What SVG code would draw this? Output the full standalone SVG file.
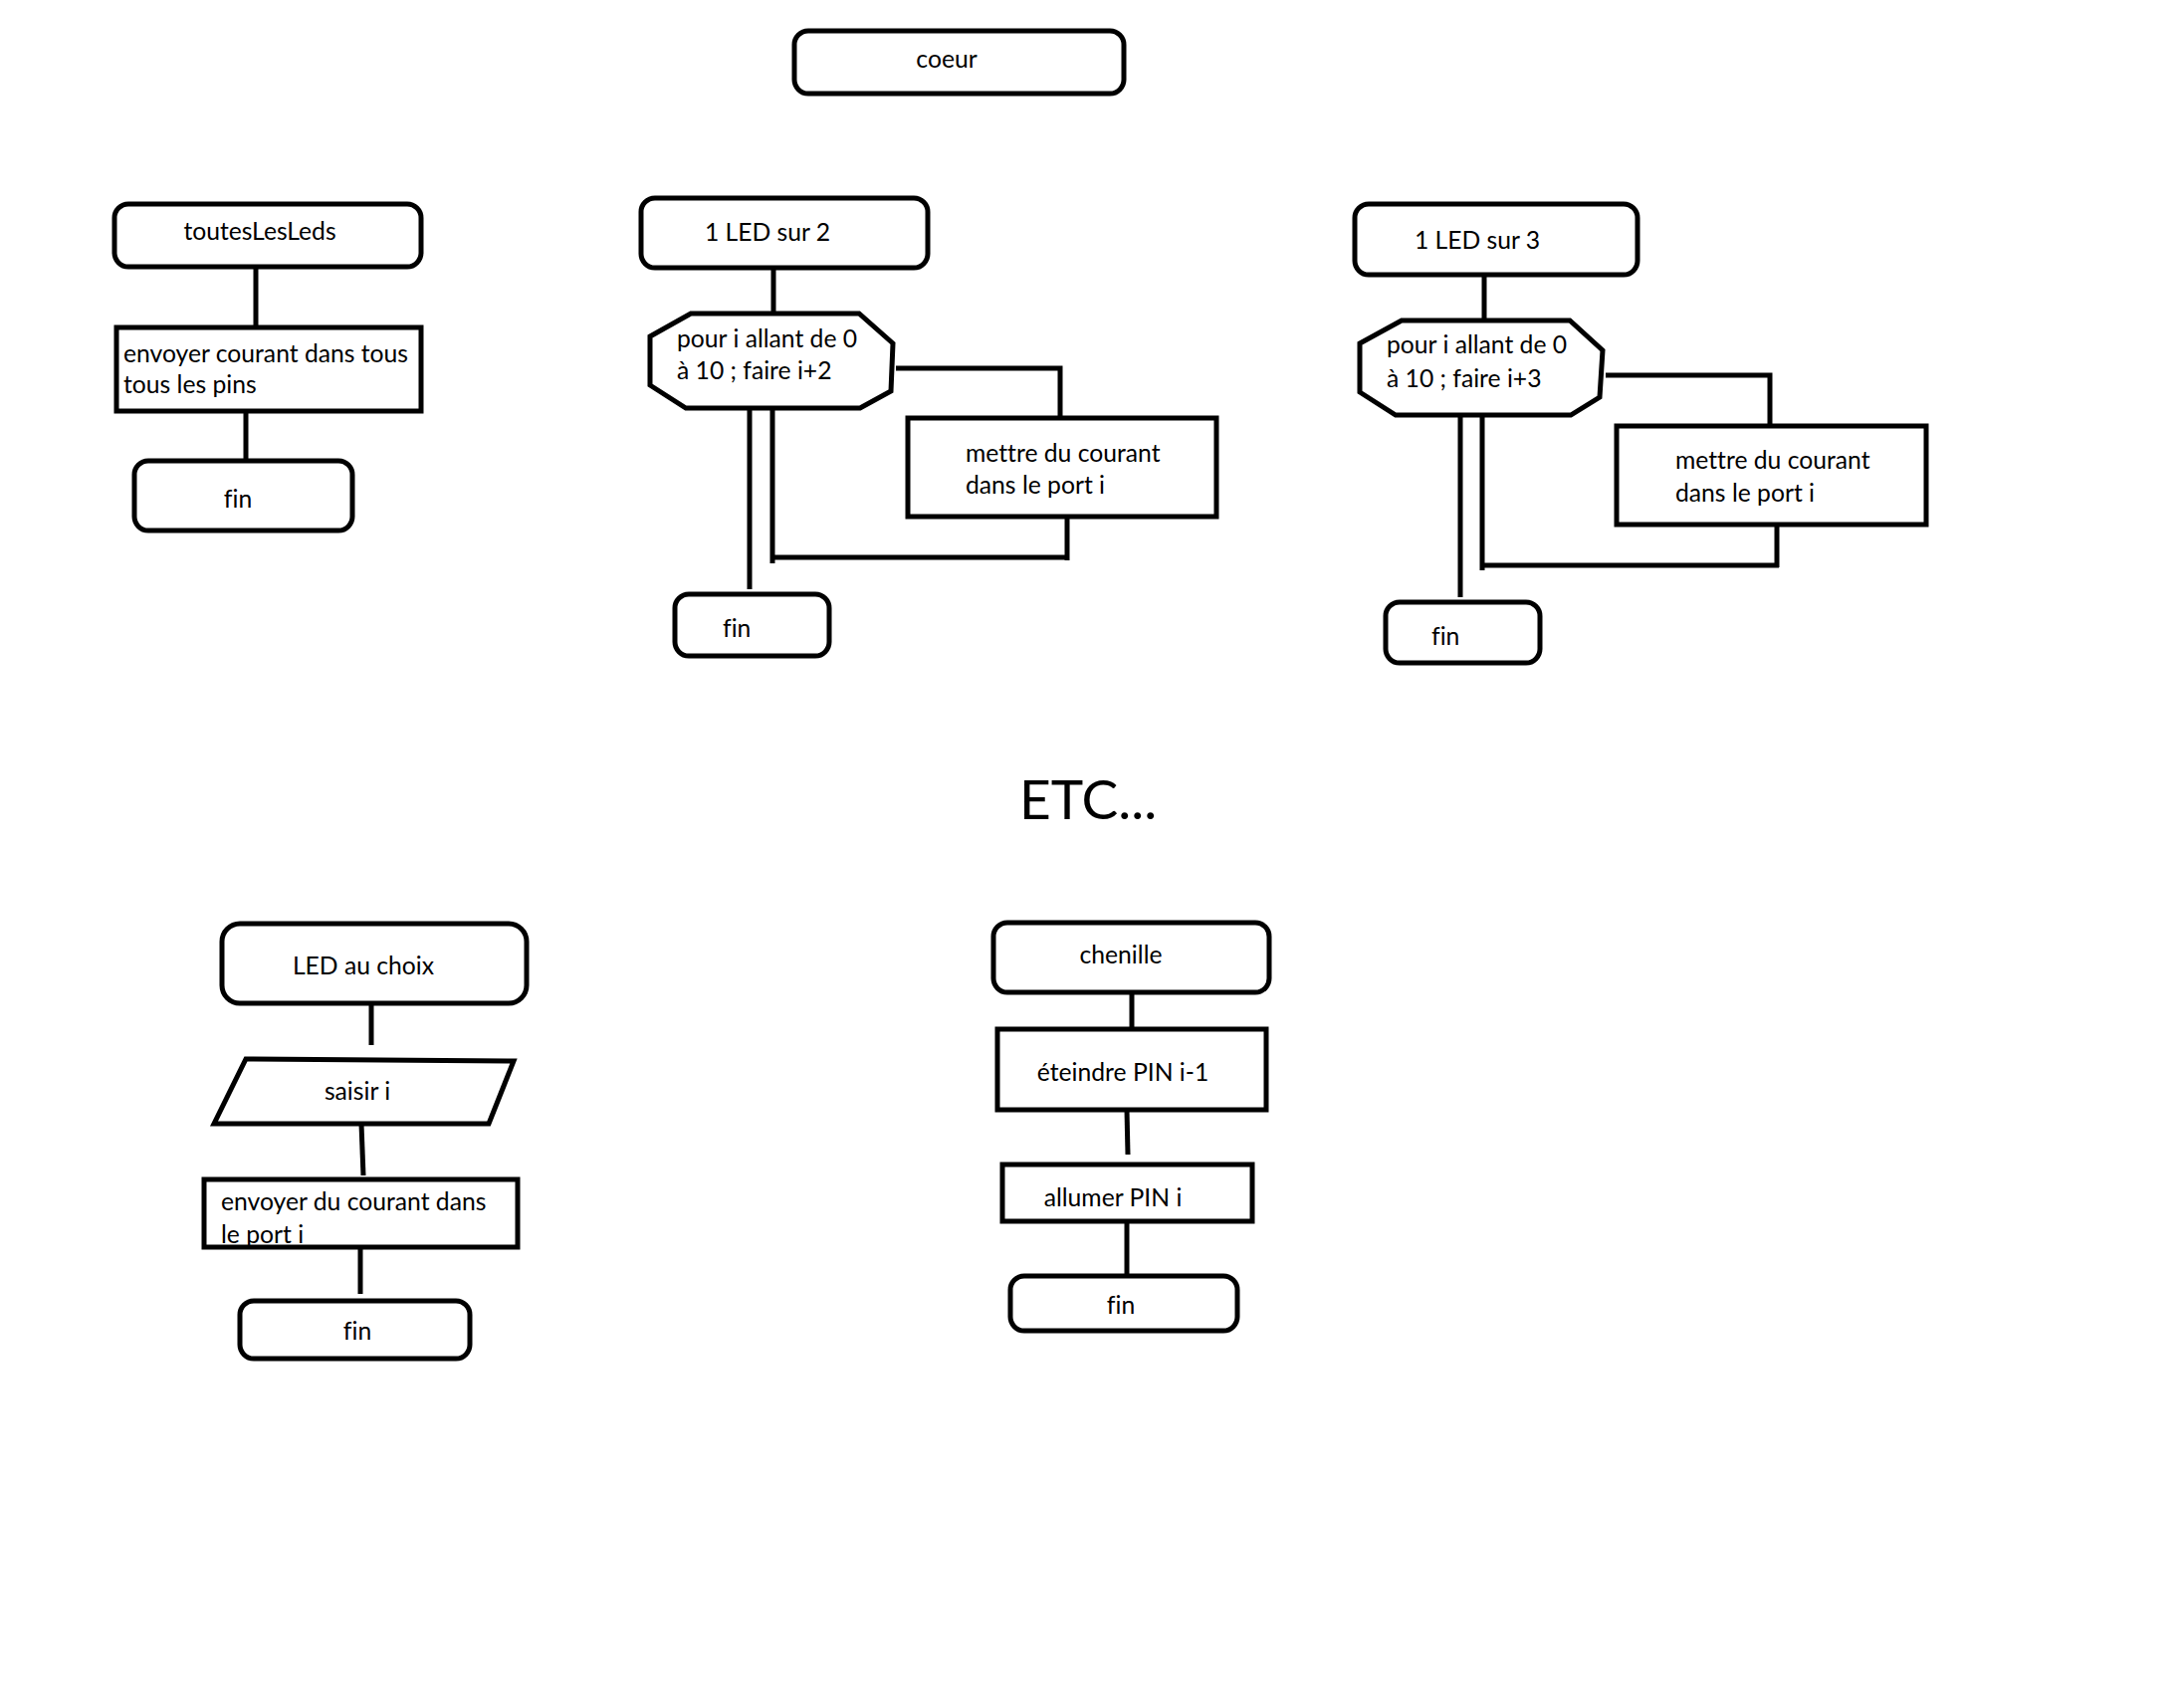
<svg xmlns="http://www.w3.org/2000/svg" width="2194" height="1706" viewBox="0 0 2194 1706">
<style>
.s{fill:#fff;stroke:#000;stroke-width:5;stroke-linejoin:miter}
.c{fill:none;stroke:#000;stroke-width:5}
.t{font-family:Lato,"Liberation Sans",sans-serif;font-size:24.7px;fill:#000;font-variant-ligatures:none}
.m{text-anchor:middle}
.big{font-family:Lato,"Liberation Sans",sans-serif;font-size:55px;fill:#000}
</style>
<rect width="2194" height="1706" fill="#fff"/>
<g id="connectors">
<path class="c" d="M257 268V329"/>
<path class="c" d="M247 413V463"/>
<path class="c" d="M777 269V315"/>
<path class="c" d="M900 370H1065V420"/>
<path class="c" d="M1072 519V563"/>
<path class="c" d="M775 560H1074"/>
<path class="c" d="M776 410V566"/>
<path class="c" d="M753 410V592"/>
<path class="c" d="M1491 276V322"/>
<path class="c" d="M1613 377H1778V428"/>
<path class="c" d="M1785 527V570"/>
<path class="c" d="M1488 568H1787"/>
<path class="c" d="M1489 417V573"/>
<path class="c" d="M1467 417V600"/>
<path class="c" d="M373 1008V1050"/>
<path class="c" d="M363 1129L365 1181"/>
<path class="c" d="M362 1253V1300"/>
<path class="c" d="M1137 997V1034"/>
<path class="c" d="M1132 1115L1133 1160"/>
<path class="c" d="M1132 1227V1282"/>
</g>
<g id="coeur"><rect class="s" x="798" y="31" width="331" height="63" rx="14"/><text class="t m" x="951" y="68">coeur</text></g>
<g id="toutesLesLeds"><rect class="s" x="115" y="205" width="308" height="63" rx="14"/><text class="t m" x="261" y="241">toutesLesLeds</text></g>
<g id="envoyerTous"><rect class="s" x="117" y="329" width="306" height="84"/><text class="t" x="124" y="364">envoyer courant dans tous</text><text class="t" x="124" y="395">tous les pins</text></g>
<g id="fin1"><rect class="s" x="135" y="463" width="219" height="70" rx="14"/><text class="t m" x="239" y="510">fin</text></g>
<g id="led2"><rect class="s" x="644" y="199" width="288" height="70" rx="14"/><text class="t m" x="771" y="242">1 LED sur 2</text></g>
<g id="boucle2"><polygon class="s" points="694,315 863,315 897,345 895,393 864,410 689,410 653,387 653,338"/><text class="t" x="680" y="349">pour i allant de 0</text><text class="t" x="680" y="381">à 10 ; faire i+2</text></g>
<g id="mettre2"><rect class="s" x="912" y="420" width="310" height="99"/><text class="t" x="970" y="464">mettre du courant</text><text class="t" x="970" y="496">dans le port i</text></g>
<g id="fin2"><rect class="s" x="678" y="597" width="155" height="62" rx="14"/><text class="t" x="726" y="640">fin</text></g>
<g id="led3"><rect class="s" x="1361" y="205" width="284" height="71" rx="14"/><text class="t m" x="1484" y="250">1 LED sur 3</text></g>
<g id="boucle3"><polygon class="s" points="1408,322 1577,322 1610,352 1607,399 1578,417 1402,417 1366,394 1366,345"/><text class="t" x="1393" y="355">pour i allant de 0</text><text class="t" x="1393" y="389">à 10 ; faire i+3</text></g>
<g id="mettre3"><rect class="s" x="1624" y="428" width="311" height="99"/><text class="t" x="1683" y="471">mettre du courant</text><text class="t" x="1683" y="504">dans le port i</text></g>
<g id="fin3"><rect class="s" x="1392" y="605" width="155" height="61" rx="14"/><text class="t" x="1438" y="648">fin</text></g>
<g id="etc"><text class="big" x="1024" y="823">ETC...</text></g>
<g id="ledChoix"><rect class="s" x="223" y="928" width="306" height="80" rx="18"/><text class="t m" x="365" y="979">LED au choix</text></g>
<g id="saisir"><polygon class="s" points="247,1064 516,1066 491,1129 215,1129"/><text class="t m" x="359" y="1105">saisir i</text></g>
<g id="envoyerPort"><rect class="s" x="205" y="1185" width="315" height="68"/><text class="t" x="222" y="1216">envoyer du courant dans</text><text class="t" x="222" y="1249">le port i</text></g>
<g id="fin4"><rect class="s" x="241" y="1307" width="231" height="58" rx="14"/><text class="t m" x="359" y="1346">fin</text></g>
<g id="chenille"><rect class="s" x="998" y="927" width="277" height="70" rx="14"/><text class="t m" x="1126" y="968">chenille</text></g>
<g id="eteindre"><rect class="s" x="1002" y="1034" width="270" height="81"/><text class="t m" x="1128" y="1086">éteindre PIN i-1</text></g>
<g id="allumer"><rect class="s" x="1007" y="1170" width="251" height="57"/><text class="t m" x="1118" y="1212">allumer PIN i</text></g>
<g id="fin5"><rect class="s" x="1015" y="1282" width="228" height="55" rx="14"/><text class="t m" x="1126" y="1320">fin</text></g>
</svg>
